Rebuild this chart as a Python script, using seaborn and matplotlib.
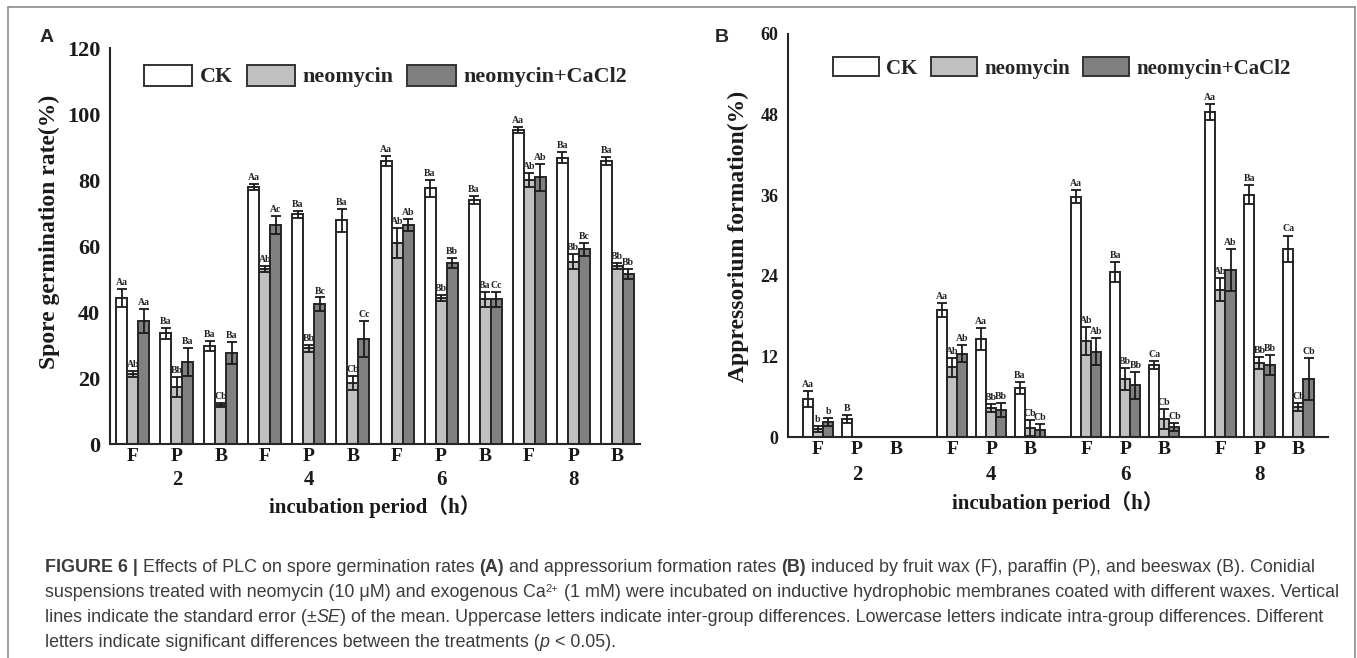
import numpy as np
import pandas as pd
import matplotlib
matplotlib.use("Agg")
import matplotlib.pyplot as plt
import seaborn as sns
from matplotlib.patches import Patch
from matplotlib.lines import Line2D
from matplotlib import font_manager

W, H = 1357, 658

treatments = ["CK", "neomycin", "neomycin+CaCl2"]
waxes = ["F", "P", "B"] * 4
hours = ["2", "4", "6", "8"]

# panel A: spore germination rate (%), order 2F 2P 2B 4F ... 8B
germ_ck = [44.2, 33.6, 29.7, 77.9, 69.6, 67.8, 85.8, 77.5, 73.9, 95.2, 86.8, 85.8]
germ_ck_se = [2.7, 1.7, 1.5, 1.0, 1.1, 3.5, 1.5, 2.5, 1.3, 1.0, 1.6, 1.3]
germ_neo = [21.2, 17.3, 11.8, 53.0, 29.0, 18.5, 61.0, 44.2, 43.8, 80.0, 55.3, 54.0]
germ_neo_se = [1.0, 3.0, 0.5, 1.0, 1.0, 2.0, 4.6, 1.0, 2.2, 2.0, 2.3, 1.0]
germ_ca = [37.3, 24.8, 27.6, 66.3, 42.4, 31.8, 66.4, 54.8, 43.8, 80.8, 59.0, 51.4]
germ_ca_se = [3.7, 4.2, 3.3, 2.8, 2.0, 5.5, 1.8, 1.6, 2.2, 4.2, 2.0, 1.5]
germ_let_ck = ["Aa", "Ba", "Ba", "Aa", "Ba", "Ba", "Aa", "Ba", "Ba", "Aa", "Ba", "Ba"]
germ_let_neo = ["Ab", "Bb", "Cb", "Ab", "Bb", "Cb", "Ab", "Bb", "Ba", "Ab", "Bb", "Bb"]
germ_let_ca = ["Aa", "Ba", "Ba", "Ac", "Bc", "Cc", "Ab", "Bb", "Cc", "Ab", "Bc", "Bb"]

# panel B: appressorium formation (%)
nan = np.nan
app_ck = [5.7, 2.7, nan, 18.9, 14.6, 7.3, 35.8, 24.6, 10.7, 48.4, 36.1, 28.0]
app_ck_se = [1.2, 0.6, nan, 1.1, 1.6, 0.9, 1.0, 1.5, 0.6, 1.2, 1.4, 2.0]
app_neo = [1.2, nan, nan, 10.4, 4.3, 1.4, 14.3, 8.6, 2.7, 21.9, 11.0, 4.5]
app_neo_se = [0.5, nan, nan, 1.4, 0.6, 1.2, 2.1, 1.6, 1.5, 1.7, 0.9, 0.6]
app_ca = [2.3, nan, nan, 12.4, 4.0, 1.0, 12.7, 7.7, 1.5, 24.9, 10.7, 8.6]
app_ca_se = [0.6, nan, nan, 1.3, 1.0, 1.0, 2.0, 2.0, 0.6, 3.1, 1.5, 3.1]
app_let_ck = ["Aa", "B", "", "Aa", "Aa", "Ba", "Aa", "Ba", "Ca", "Aa", "Ba", "Ca"]
app_let_neo = ["b", "", "", "Ab", "Bb", "Cb", "Ab", "Bb", "Cb", "Ab", "Bb", "Cb"]
app_let_ca = ["b", "", "", "Ab", "Bb", "Cb", "Ab", "Bb", "Cb", "Ab", "Bb", "Cb"]

palette = {"CK": "#ffffff", "neomycin": "#c0c0c0", "neomycin+CaCl2": "#808080"}
edge = "#262626"

sns.set_style("white")
plt.rcParams["font.family"] = ["Liberation Serif", "Noto Sans CJK SC", "DejaVu Sans"]
plt.rcParams["font.weight"] = "bold"
plt.rcParams["axes.linewidth"] = 1.5

fig = plt.figure(figsize=(W / 100, H / 100), dpi=100)


def px_axes(left, top, right, bottom):
    return fig.add_axes([left / W, 1 - bottom / H, (right - left) / W, (bottom - top) / H])


def draw_panel(ax, pos, vals, ses, lets, width, let_off):
    rows = []
    for k, t in enumerate(treatments):
        for p, v, s, l in zip(pos, vals[k], ses[k], lets[k]):
            rows.append(dict(pos=p, treatment=t, value=v, se=s, letter=l, k=k))
    df = pd.DataFrame(rows).dropna(subset=["value"])
    sns.barplot(data=df, x="pos", y="value", hue="treatment", hue_order=treatments,
                palette=palette, native_scale=True, width=width, errorbar=None,
                saturation=1, edgecolor=edge, linewidth=1.4, legend=False, ax=ax)
    bw = ax.patches[0].get_width()
    xs = df["pos"] + (df["k"] - 1) * bw
    ax.errorbar(xs, df["value"], yerr=df["se"], fmt="none", ecolor="#1a1a1a",
                elinewidth=1.3, capsize=3.3, capthick=1.3)
    for x, v, s, l in zip(xs, df["value"], df["se"], df["letter"]):
        ax.text(x, v + s + let_off, l, ha="center", va="bottom", fontsize=7,
                fontweight="bold", color="#222222")
    sns.despine(ax=ax)
    ax.spines["left"].set_color(edge)
    ax.spines["bottom"].set_color(edge)


def style_axes(ax, pos, xlim, ymax, ystep, ysize):
    ax.set_xlim(*xlim)
    ax.set_ylim(0, ymax)
    ax.set_yticks(range(0, ymax + 1, ystep))
    ax.tick_params(axis="y", direction="in", length=5, width=1.3, pad=7,
                   labelsize=ysize, colors="#1a1a1a")
    ax.set_xticks(pos)
    ax.set_xticklabels(waxes, fontsize=14, fontweight="bold")
    ax.tick_params(axis="x", length=0, pad=3, colors="#1a1a1a")
    ax.set_xlabel("")
    ax.set_ylabel("")
    for lab in ax.get_yticklabels():
        lab.set_fontweight("bold")


# ---- panel A ----
axA = px_axes(110, 48, 640, 444)
posA = list(range(12))
draw_panel(axA, posA, [germ_ck, germ_neo, germ_ca], [germ_ck_se, germ_neo_se, germ_ca_se],
           [germ_let_ck, germ_let_neo, germ_let_ca], 0.75, 0.6)
style_axes(axA, posA, (-0.52, 11.52), 120, 20, 16)

# ---- panel B ----
axB = px_axes(788, 34, 1328, 437)
posB = [i + (i // 3) * 0.44 for i in range(12)]
draw_panel(axB, posB, [app_ck, app_neo, app_ca], [app_ck_se, app_neo_se, app_ca_se],
           [app_let_ck, app_let_neo, app_let_ca], 0.78, 0.3)
style_axes(axB, posB, (-0.77, 13.08), 60, 12, 13)

# group labels and axis titles
for ax, pos, bottom_px, height_px, g_y, t_y, t_x in [
        (axA, posA, 444, 396, 480, 507, 375),
        (axB, posB, 437, 403, 475, 503, 1058)]:
    for g, h in enumerate(hours):
        ax.text(pos[g * 3 + 1], (bottom_px - g_y) / height_px, h,
                transform=ax.get_xaxis_transform(), ha="center", va="center",
                fontsize=15, fontweight="bold", color="#1a1a1a")
    fig.text(t_x / W, 1 - t_y / H, "incubation period（h）", ha="center", va="center",
             fontsize=15, fontweight="bold", color="#1a1a1a")

fig.text(49 / W, 1 - 232 / H, "Spore germination rate(%)", rotation=90, ha="center",
         va="center", fontsize=17, fontweight="bold", color="#1a1a1a")
fig.text(738 / W, 1 - 236 / H, "Appressorium formation(%)", rotation=90, ha="center",
         va="center", fontsize=17, fontweight="bold", color="#1a1a1a")

fig.text(47 / W, 1 - 38 / H, "A", family=["Liberation Sans", "DejaVu Sans"],
         fontsize=14, fontweight="bold", ha="center", va="center")
fig.text(722 / W, 1 - 38 / H, "B", family=["Liberation Sans", "DejaVu Sans"],
         fontsize=14, fontweight="bold", ha="center", va="center")

# legends
for ax, lx, ly, fs, hl, hh, cs in [(axA, 144, 76, 15.8, 2.2, 1.1, 0.62),
                                   (axB, 833, 68, 15.0, 2.2, 1.0, 0.65)]:
    handles = [Patch(facecolor=palette[t], edgecolor="#333333", linewidth=1.4) for t in treatments]
    ax.legend(handles, treatments, ncol=3, loc="center left",
              bbox_to_anchor=(lx / W, 1 - ly / H), bbox_transform=fig.transFigure,
              frameon=False, prop={"family": "Liberation Serif", "weight": "bold", "size": fs},
              handlelength=hl, handleheight=hh, handletextpad=0.35, columnspacing=cs,
              borderaxespad=0, borderpad=0)

# outer frame
for xs_, ys_ in [([8, 1355], [7, 7]), ([8, 8], [7, 658]), ([1355, 1355], [7, 658])]:
    fig.add_artist(Line2D([x / W for x in xs_], [1 - y / H for y in ys_],
                          transform=fig.transFigure, color="#8c8c8c", lw=1.2))

# caption
names = {f.name for f in font_manager.fontManager.ttflist}
cap_font = "Liberation Sans Narrow" if "Liberation Sans Narrow" in names else "Liberation Sans"
cap_size = 12.9
cap_color = "#3c3c3c"
renderer = fig.canvas.get_renderer()


def text_w(s, **kw):
    t = fig.text(0, 0, s, family=cap_font, fontsize=kw.get("size", cap_size),
                 fontweight=kw.get("weight", "normal"))
    w = t.get_window_extent(renderer).width
    t.remove()
    return w


space_w = text_w("a a") - text_w("aa")

caption = [
    [("FIGURE 6 |", "bold", "normal", 0, 1.0), (" Effects of PLC on spore germination rates ", "normal", "normal", 0, 1.0),
     ("(A)", "bold", "normal", 0, 1.0), (" and appressorium formation rates ", "normal", "normal", 0, 1.0),
     ("(B)", "bold", "normal", 0, 1.0),
     (" induced by fruit wax (F), paraffin (P), and beeswax (B). Conidial", "normal", "normal", 0, 1.0)],
    [("suspensions treated with neomycin (10 μM) and exogenous Ca", "normal", "normal", 0, 1.0),
     ("2+", "normal", "normal", 5, 0.62),
     (" (1 mM) were incubated on inductive hydrophobic membranes coated with different waxes. Vertical",
      "normal", "normal", 0, 1.0)],
    [("lines indicate the standard error (±", "normal", "normal", 0, 1.0), ("SE", "normal", "italic", 0, 1.0),
     (") of the mean. Uppercase letters indicate inter-group differences. Lowercase letters indicate "
      "intra-group differences. Different", "normal", "normal", 0, 1.0)],
    [("letters indicate significant differences between the treatments (", "normal", "normal", 0, 1.0),
     ("p", "normal", "italic", 0, 1.0), (" < 0.05).", "normal", "normal", 0, 1.0)],
]
cap_baselines = [572, 597, 622, 647]

for y, pieces in zip(cap_baselines, caption):
    x = 45
    for s, weight, style, dy, scale in pieces:
        lead = len(s) - len(s.lstrip(" "))
        trail = len(s) - len(s.rstrip(" "))
        x += lead * space_w
        t = fig.text(x / W, 1 - (y - dy) / H, s.strip(" "), family=cap_font,
                     fontsize=cap_size * scale, fontweight=weight, fontstyle=style,
                     color=cap_color, ha="left", va="baseline")
        x = t.get_window_extent(renderer).x1 + trail * space_w

fig.savefig("out.png", dpi=100, facecolor="white")
